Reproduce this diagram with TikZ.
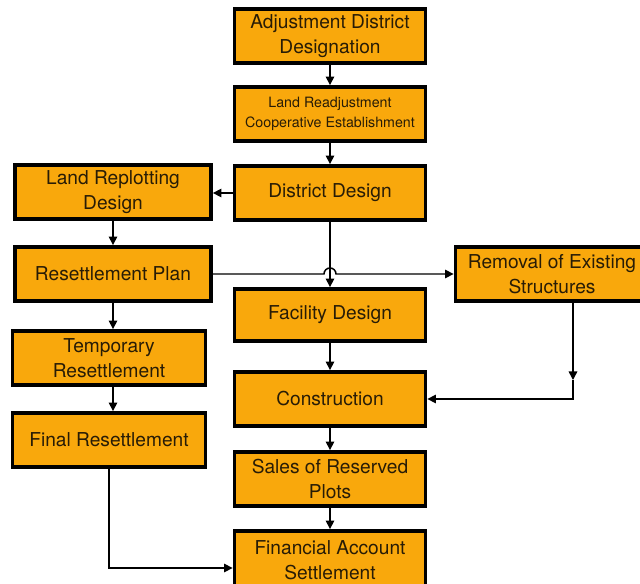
\documentclass[tikz,border=0pt]{standalone}
\usepackage{fontspec}
\setmainfont{TeX Gyre Heros}
\usetikzlibrary{arrows.meta}

\definecolor{boxorange}{RGB}{249,168,12}
\definecolor{boxtext}{RGB}{40,28,6}

\tikzset{
    stage/.style={draw=black, line width=2.2pt, fill=boxorange, text=boxtext,
        align=center, inner sep=0pt, minimum width=3.82cm, minimum height=1.08cm,
        font=\fontsize{10.9}{14.2}\selectfont},
    link/.style={line width=0.85pt, -{Triangle[length=1.7mm,width=1.7mm]}}
}

\begin{document}
\begin{tikzpicture}[x=0.02cm, y=-0.02cm]
        \useasboundingbox (0,0) rectangle (640,584);
        % main column
        \node[stage] (adj) at (330,36) {Adjustment District\\Designation};
        \node[stage, font=\fontsize{8.1}{11.3}\selectfont] (coop) at (330,114) {Land Readjustment\\Cooperative Establishment};
        \node[stage] (dist) at (330,193) {District Design};
        \node[stage, minimum height=1.04cm] (facility) at (330,315) {Facility Design};
        \node[stage] (cons) at (330,399) {Construction};
        \node[stage] (sales) at (330,479) {Sales of Reserved\\Plots};
        \node[stage, minimum height=1.16cm] (fin) at (330,560) {Financial Account\\Settlement};
        % left column
        \node[stage, minimum width=3.92cm] (replot) at (113,192) {Land Replotting\\Design};
        \node[stage, minimum width=3.92cm] (plan) at (113,274) {Resettlement Plan};
        \node[stage, minimum width=3.86cm] (temp) at (109,358) {Temporary\\Resettlement};
        \node[stage, minimum width=3.86cm] (final) at (109,440) {Final Resettlement};
        % right
        \node[stage, minimum width=3.86cm] (removal) at (552,274) {Removal of Existing\\Structures};

        \coordinate (hop) at (plan.east -| dist.south);
        \coordinate (rmid) at (573,380);

        \draw[link] (adj) -- (coop);
        \draw[link] (coop) -- (dist);
        \draw[link] (dist.west) -- (dist.west -| replot.east);
        \draw[link] (replot) -- (plan);
        \draw[link] (dist) -- (facility);
        \draw[link] (plan.east) -- ([xshift=-1.2mm]hop) arc[start angle=180, end angle=0, radius=1.2mm] -- (removal.west);
        \draw[link] (plan.south) -- (plan.south |- temp.north);
        \draw[link] (facility) -- (cons);
        \draw[link] (removal.south -| rmid) -- (rmid);
        \draw[link] (rmid) |- (cons.east);
        \draw[link] (temp.south -| plan.south) -- (final.north -| plan.south);
        \draw[link] (cons) -- (sales);
        \draw[link] (sales) -- (fin);
        \draw[link] (final.south) |- ([yshift=-1.6mm]fin.west);
    \end{tikzpicture}
\end{document}
